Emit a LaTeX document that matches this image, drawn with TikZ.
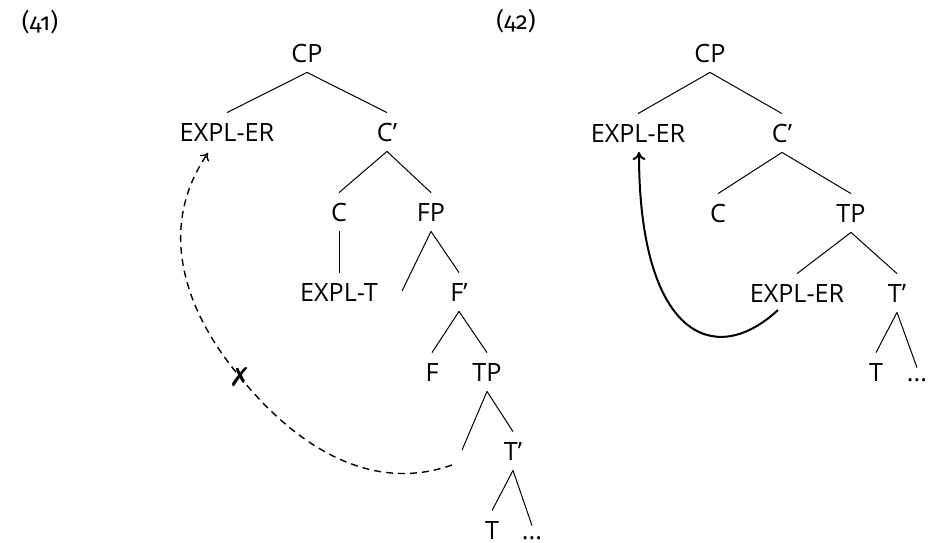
\documentclass[tikz,border=0pt]{standalone}
\usepackage{fontspec}
\setmainfont{Open Sans}
\newfontfamily\exnum[Numbers=OldStyle]{Fira Sans}
\newfontfamily\symfont{DejaVu Sans}
\usetikzlibrary{arrows.meta}
\begin{document}
\begin{tikzpicture}[x=0.5pt,y=-0.5pt,
  lbl/.style={font=\fontsize{12.6}{15}\selectfont, text height=9pt, text depth=0pt, inner xsep=1pt, inner ysep=5pt},
  dotsnode/.style={lbl, text height=3pt, inner ysep=3.5pt, anchor=base},
  exlabel/.style={font=\exnum\fontsize{12}{14}\selectfont, inner sep=0pt},
  br/.style={line width=0.5pt},
  movebad/.style={line width=0.7pt, dash pattern=on 3.5pt off 2.5pt, -{To[length=3.5pt,width=5.5pt]}},
  movegood/.style={line width=1pt, -{To[length=4pt,width=6.5pt]}},
  xmark/.style={font=\symfont\fontsize{13}{13}\selectfont, inner sep=0pt}]
\useasboundingbox (0,0) rectangle (937,542);

% ---------- (41) ----------
\node[exlabel] (ex41) at (40,22) {(41)};
\node[lbl] (cpA) at (307,53) {CP};
\node[lbl] (erA) at (227,132) {EXPL-ER};
\node[lbl] (cbarA) at (387,132) {C’};
\node[lbl] (cA) at (339,212) {C};
\node[lbl] (fpA) at (431,212) {FP};
\node[lbl] (exptA) at (339,292) {EXPL-T};
\coordinate (emptyFA) at (402,291);
\node[lbl] (fbarA) at (459,292) {F’};
\node[lbl] (fA) at (432,372) {F};
\node[lbl] (tpA) at (487,372) {TP};
\coordinate (emptyTA) at (462,450);
\node[lbl] (tbarA) at (513,451) {T’};
\node[lbl] (tA) at (492,530) {T};
\node[dotsnode] (dotsA) at (532,539) {...};

\draw[br] (cpA.south) -- (erA.north);
\draw[br] (cpA.south) -- (cbarA.north);
\draw[br] (cbarA.south) -- (cA.north);
\draw[br] (cbarA.south) -- (fpA.north);
\draw[br] (cA.south) -- (exptA.north);
\draw[br] (fpA.south) -- (emptyFA);
\draw[br] (fpA.south) -- (fbarA.north);
\draw[br] (fbarA.south) -- (fA.north);
\draw[br] (fbarA.south) -- (tpA.north);
\draw[br] (tpA.south) -- (emptyTA);
\draw[br] (tpA.south) -- (tbarA.north);
\draw[br] (tbarA.south) -- (tA.north);
\draw[br] (tbarA.south) -- (dotsA.north);

\coordinate (startA) at (452,465);
\coordinate (tipA) at (208,153);
\node[xmark] (crossA) at (240,377) {✗};
\draw[movebad] (startA) .. controls (370,494) and (295,445) .. (crossA.center)
  .. controls (182,308) and (158,226) .. (tipA);

% ---------- (42) ----------
\node[exlabel] (ex42) at (516,21) {(42)};
\node[lbl] (cpB) at (710,53) {CP};
\node[lbl] (erB) at (638,133) {EXPL-ER};
\node[lbl] (cbarB) at (782,133) {C’};
\node[lbl] (cB) at (718,213) {C};
\node[lbl] (tpB) at (851,213) {TP};
\node[lbl] (er2B) at (797,293) {EXPL-ER};
\node[lbl] (tbarB) at (897,293) {T’};
\node[lbl] (tB) at (876,372) {T};
\node[dotsnode] (dotsB) at (917,381) {...};

\draw[br] (cpB.south) -- (erB.north);
\draw[br] (cpB.south) -- (cbarB.north);
\draw[br] (cbarB.south) -- (cB.north);
\draw[br] (cbarB.south) -- (tpB.north);
\draw[br] (tpB.south) -- (er2B.north);
\draw[br] (tpB.south) -- (tbarB.north);
\draw[br] (tbarB.south) -- (tB.north);
\draw[br] (tbarB.south) -- (dotsB.north);

\coordinate (startB) at (778,310);
\coordinate (tipB) at (639,152);
\draw[movegood] (startB) .. controls (712,371) and (639,332) .. (tipB);
\end{tikzpicture}
\end{document}
